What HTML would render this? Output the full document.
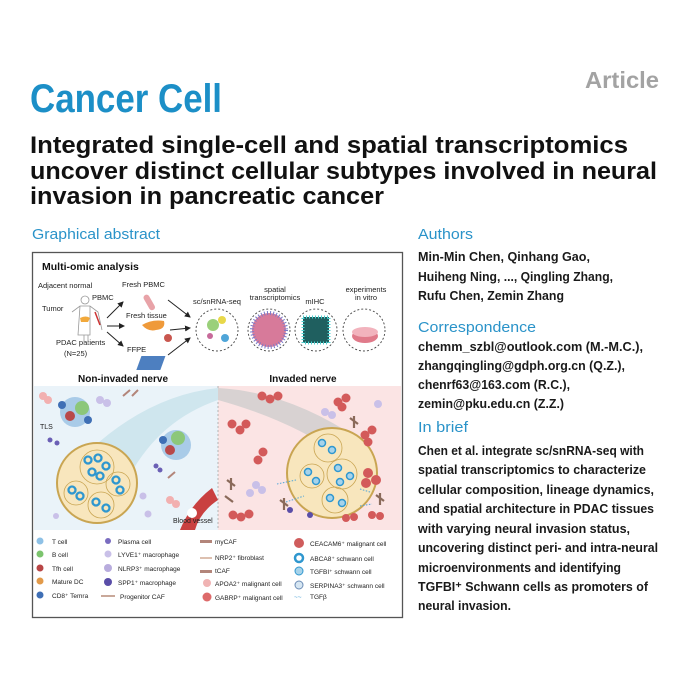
<!DOCTYPE html>
<html><head><meta charset="utf-8"><style>
html,body{margin:0;padding:0;background:#fff}
svg{display:block}
text{font-family:"Liberation Sans",sans-serif}
</style></head><body>
<svg width="688" height="688" viewBox="0 0 688 688" xmlns="http://www.w3.org/2000/svg">
<defs>
<marker id="ar" markerWidth="6" markerHeight="6" refX="5" refY="3" orient="auto"><path d="M0,0 L6,3 L0,6 z" fill="#222"/></marker>
</defs>
<rect width="688" height="688" fill="#fff"/>
<text x="659" y="88" text-anchor="end" font-size="23" font-weight="bold" fill="#a3a3a3" textLength="74" lengthAdjust="spacingAndGlyphs">Article</text>
<text x="30" y="112" font-size="40" font-weight="bold" fill="#1c8fc7" textLength="192" lengthAdjust="spacingAndGlyphs">Cancer Cell</text>
<g font-size="24" font-weight="bold" fill="#111">
<text x="30" y="153" textLength="598" lengthAdjust="spacingAndGlyphs">Integrated single-cell and spatial transcriptomics</text>
<text x="30" y="179" textLength="627" lengthAdjust="spacingAndGlyphs">uncover distinct cellular subtypes involved in neural</text>
<text x="30" y="204" textLength="354" lengthAdjust="spacingAndGlyphs">invasion in pancreatic cancer</text>
</g>
<g font-size="15" fill="#2a93c9">
<text x="32" y="239" textLength="128" lengthAdjust="spacingAndGlyphs">Graphical abstract</text>
<text x="418" y="239" textLength="55" lengthAdjust="spacingAndGlyphs">Authors</text>
<text x="418" y="332" textLength="118" lengthAdjust="spacingAndGlyphs">Correspondence</text>
<text x="418" y="432" textLength="50" lengthAdjust="spacingAndGlyphs">In brief</text>
</g>
<g font-size="12.5" fill="#1a1a1a" font-weight="bold">
<text x="418" y="261" textLength="172" lengthAdjust="spacingAndGlyphs">Min-Min Chen, Qinhang Gao,</text>
<text x="418" y="281" textLength="195" lengthAdjust="spacingAndGlyphs">Huiheng Ning, ..., Qingling Zhang,</text>
<text x="418" y="300" textLength="146" lengthAdjust="spacingAndGlyphs">Rufu Chen, Zemin Zhang</text>
<text x="418" y="351" textLength="225" lengthAdjust="spacingAndGlyphs">chemm_szbl@outlook.com (M.-M.C.),</text>
<text x="418" y="370" textLength="207" lengthAdjust="spacingAndGlyphs">zhangqingling@gdph.org.cn (Q.Z.),</text>
<text x="418" y="389" textLength="152" lengthAdjust="spacingAndGlyphs">chenrf63@163.com (R.C.),</text>
<text x="418" y="408" textLength="146" lengthAdjust="spacingAndGlyphs">zemin@pku.edu.cn (Z.Z.)</text>
<text x="418" y="455" textLength="226" lengthAdjust="spacingAndGlyphs">Chen et al. integrate sc/snRNA-seq with</text>
<text x="418" y="474" textLength="228" lengthAdjust="spacingAndGlyphs">spatial transcriptomics to characterize</text>
<text x="418" y="494" textLength="236" lengthAdjust="spacingAndGlyphs">cellular composition, lineage dynamics,</text>
<text x="418" y="513" textLength="236" lengthAdjust="spacingAndGlyphs">and spatial architecture in PDAC tissues</text>
<text x="418" y="533" textLength="212" lengthAdjust="spacingAndGlyphs">with varying neural invasion status,</text>
<text x="418" y="552" textLength="240" lengthAdjust="spacingAndGlyphs">uncovering distinct peri- and intra-neural</text>
<text x="418" y="572" textLength="203" lengthAdjust="spacingAndGlyphs">microenvironments and identifying</text>
<text x="418" y="591" textLength="230" lengthAdjust="spacingAndGlyphs">TGFBI⁺ Schwann cells as promoters of</text>
<text x="418" y="610" textLength="93" lengthAdjust="spacingAndGlyphs">neural invasion.</text>
</g>

<rect x="32.5" y="252.5" width="370" height="365" fill="#fff" stroke="#555" stroke-width="1.3"/>
<text x="42" y="270" font-size="10.5" font-weight="bold" fill="#111">Multi-omic analysis</text>
<g font-size="7.5" fill="#222">
<text x="38" y="288">Adjacent normal</text>
<text x="92" y="300">PBMC</text>
<text x="42" y="311">Tumor</text>
<text x="56" y="345">PDAC patients</text>
<text x="64" y="356">(N=25)</text>
<text x="122" y="287">Fresh PBMC</text>
<text x="126" y="318">Fresh tissue</text>
<text x="127" y="352">FFPE</text>
<text x="193" y="304">sc/snRNA-seq</text>
<text x="275" y="292" text-anchor="middle">spatial</text>
<text x="275" y="300" text-anchor="middle">transcriptomics</text>
<text x="315" y="304" text-anchor="middle">mIHC</text>
<text x="366" y="292" text-anchor="middle">experiments</text>
<text x="366" y="300" text-anchor="middle">in vitro</text>
</g>
<g fill="none" stroke="#999" stroke-width="0.8">
<circle cx="85" cy="300" r="4"/>
<path d="M72,312 L80,306 L90,306 L98,312 L102,330 M80,306 L78,335 L90,335 L90,306 M84,335 L84,345 M88,335 L88,345"/>
</g>
<path d="M80,318 q6,-3 10,0 l-2,4 l-7,0z" fill="#f2a93b"/>
<line x1="95" y1="312" x2="100" y2="325" stroke="#c33" stroke-width="1.5"/>
<g stroke="#222" stroke-width="1" marker-end="url(#ar)">
<line x1="107" y1="318" x2="123" y2="302"/>
<line x1="107" y1="326" x2="124" y2="326"/>
<line x1="107" y1="332" x2="123" y2="346"/>
<line x1="168" y1="300" x2="190" y2="317"/>
<line x1="170" y1="330" x2="190" y2="328"/>
<line x1="168" y1="355" x2="190" y2="338"/>
</g>
<rect x="146" y="294" width="6" height="17" rx="3" fill="#e8a3a8" transform="rotate(-30 149 302)"/>
<path d="M142,325 q10,-6 22,-4 q2,8 -8,9 q-8,2 -14,-5z" fill="#ef9a3a"/>
<circle cx="168" cy="338" r="4" fill="#c9574f"/>
<rect x="143" y="356" width="24" height="14" fill="#4d7fc0" transform="skewX(-20) translate(128 0)"/>
<g fill="none" stroke="#444" stroke-dasharray="2 2" stroke-width="0.9">
<circle cx="217" cy="330" r="21"/><circle cx="269" cy="330" r="21"/><circle cx="316" cy="330" r="21"/><circle cx="364" cy="330" r="21"/>
</g>
<circle cx="213" cy="325" r="6" fill="#9ad07a"/><circle cx="222" cy="320" r="4" fill="#e8d84a"/><circle cx="210" cy="336" r="3" fill="#c76a9a"/><circle cx="225" cy="338" r="4" fill="#4fa5d8"/>
<circle cx="269" cy="330" r="17" fill="#d77a9a"/><circle cx="269" cy="330" r="17" fill="none" stroke="#7a7ac8" stroke-width="4" stroke-dasharray="1 2"/>
<rect x="303" y="317" width="26" height="26" fill="#1f5f5f"/><rect x="303" y="317" width="26" height="26" fill="none" stroke="#4fd0d0" stroke-width="3" stroke-dasharray="1 2"/>
<ellipse cx="365" cy="336" rx="13" ry="7" fill="#e07a8a"/><ellipse cx="365" cy="332" rx="13" ry="5" fill="#f2b3bd"/>
<text x="123" y="382" font-size="10" font-weight="bold" text-anchor="middle" fill="#111">Non-invaded nerve</text>
<text x="303" y="382" font-size="10" font-weight="bold" text-anchor="middle" fill="#111">Invaded nerve</text>

<rect x="34" y="386" width="184" height="144" fill="#eaf3f9"/>
<rect x="218" y="386" width="183" height="144" fill="#fbe4e4"/>
<line x1="218" y1="386" x2="218" y2="530" stroke="#999" stroke-dasharray="2 2" stroke-width="0.7"/>
<path d="M90,450 Q150,395 218,388 L218,400 Q160,420 130,475z" fill="#cfe6ee"/>
<path d="M218,388 Q290,392 360,440 L340,455 Q290,420 218,400z" fill="#d8d2d2"/>
<!-- TLS clusters -->
<circle cx="75" cy="412" r="15" fill="#a9cbe8"/><circle cx="82" cy="408" r="7" fill="#8cc77a"/><circle cx="70" cy="416" r="5" fill="#b8484a"/><circle cx="62" cy="405" r="4" fill="#3f6fb5"/><circle cx="88" cy="420" r="4" fill="#3f6fb5"/>
<circle cx="176" cy="445" r="15" fill="#a9cbe8"/><circle cx="178" cy="438" r="7" fill="#8cc77a"/><circle cx="170" cy="450" r="5" fill="#b8484a"/><circle cx="163" cy="440" r="4" fill="#3f6fb5"/>
<text x="40" y="429" font-size="7" fill="#222">TLS</text>
<!-- left scattered cells -->
<g fill="#f2b0b0"><circle cx="43" cy="396" r="4"/><circle cx="48" cy="400" r="4"/><circle cx="170" cy="500" r="4"/><circle cx="176" cy="504" r="4"/></g>
<g fill="#c9c0e8"><circle cx="100" cy="400" r="4"/><circle cx="107" cy="403" r="4"/><circle cx="143" cy="496" r="3.5"/><circle cx="148" cy="514" r="3.5"/><circle cx="56" cy="516" r="3"/></g>
<g fill="#6a5fb5"><circle cx="50" cy="440" r="2.5"/><circle cx="57" cy="443" r="2.5"/><circle cx="156" cy="466" r="2.5"/><circle cx="160" cy="470" r="2.5"/></g>
<g stroke="#b3857a" stroke-width="2"><line x1="123" y1="396" x2="130" y2="390"/><line x1="132" y1="396" x2="138" y2="390"/><line x1="168" y1="478" x2="175" y2="472"/></g>
<!-- nerves -->
<circle cx="97" cy="483" r="40" fill="#f8e6bd" stroke="#c9a552" stroke-width="2"/>
<g fill="none" stroke="#c9a552" stroke-width="0.8"><circle cx="97" cy="467" r="17"/><circle cx="76" cy="493" r="12"/><circle cx="101" cy="505" r="13"/><circle cx="118" cy="484" r="12"/></g>
<g fill="none" stroke="#2f97cf" stroke-width="2.3">
<circle cx="88" cy="460" r="3.5"/><circle cx="98" cy="458" r="3.5"/><circle cx="106" cy="466" r="3.5"/><circle cx="92" cy="472" r="3.5"/><circle cx="100" cy="476" r="3.5"/>
<circle cx="72" cy="490" r="3.5"/><circle cx="80" cy="496" r="3.5"/><circle cx="96" cy="502" r="3.5"/><circle cx="106" cy="508" r="3.5"/><circle cx="116" cy="480" r="3.5"/><circle cx="120" cy="490" r="3.5"/>
</g>
<circle cx="332" cy="473" r="45" fill="#f8e6bd" stroke="#c9a552" stroke-width="2"/>
<g fill="none" stroke="#c9a552" stroke-width="0.8"><circle cx="328" cy="448" r="14"/><circle cx="312" cy="476" r="12"/><circle cx="342" cy="474" r="15"/><circle cx="335" cy="500" r="13"/></g>
<g fill="#a7d3ea" stroke="#2f97cf" stroke-width="1.5">
<circle cx="322" cy="443" r="3.5"/><circle cx="332" cy="450" r="3.5"/><circle cx="308" cy="472" r="3.5"/><circle cx="316" cy="481" r="3.5"/><circle cx="338" cy="468" r="3.5"/><circle cx="350" cy="476" r="3.5"/><circle cx="340" cy="482" r="3.5"/><circle cx="330" cy="498" r="3.5"/><circle cx="342" cy="503" r="3.5"/>
</g>
<!-- right scattered cells -->
<g fill="#d35a5a">
<circle cx="262" cy="396" r="4.5"/><circle cx="270" cy="399" r="4.5"/><circle cx="278" cy="396" r="4.5"/>
<circle cx="338" cy="402" r="4.5"/><circle cx="346" cy="398" r="4.5"/><circle cx="342" cy="407" r="4.5"/>
<circle cx="232" cy="424" r="4.5"/><circle cx="240" cy="430" r="4.5"/><circle cx="246" cy="424" r="4.5"/>
<circle cx="365" cy="435" r="4.5"/><circle cx="372" cy="430" r="4.5"/><circle cx="368" cy="442" r="4.5"/>
<circle cx="263" cy="452" r="4.5"/><circle cx="258" cy="460" r="4.5"/>
<circle cx="368" cy="473" r="5"/><circle cx="376" cy="480" r="5"/><circle cx="366" cy="483" r="5"/>
<circle cx="233" cy="515" r="4.5"/><circle cx="241" cy="517" r="4.5"/><circle cx="249" cy="514" r="4.5"/>
<circle cx="346" cy="518" r="4"/><circle cx="354" cy="517" r="4"/><circle cx="372" cy="515" r="4"/><circle cx="380" cy="516" r="4"/>
</g>
<g fill="#c9c0e8"><circle cx="325" cy="412" r="4"/><circle cx="332" cy="415" r="4"/><circle cx="378" cy="404" r="4"/><circle cx="256" cy="485" r="4"/><circle cx="262" cy="490" r="4"/><circle cx="250" cy="493" r="4"/></g>
<g fill="#5a4ea8"><circle cx="290" cy="510" r="3"/><circle cx="310" cy="515" r="3"/></g>
<g stroke="#8a6a5a" stroke-width="2.2" fill="none"><path d="M350,418 l8,6 m-4,-8 l0,12"/><path d="M227,480 l8,6 m-4,-8 l0,12 m-6,6 l8,6"/><path d="M280,500 l8,6 m-4,-8 l0,12"/><path d="M376,495 l8,6 m-4,-8 l0,12"/></g>
<g stroke="#4fa5d8" stroke-width="1" stroke-dasharray="1.5 1.5"><line x1="277" y1="484" x2="296" y2="480"/><line x1="286" y1="502" x2="304" y2="496"/><line x1="360" y1="506" x2="372" y2="504"/><line x1="360" y1="489" x2="370" y2="492"/></g>
<path d="M180,530 Q190,505 212,488 L218,500 Q200,512 195,530z" fill="#c94040"/>
<circle cx="192" cy="513" r="5" fill="#fff"/>
<text x="173" y="523" font-size="7" fill="#222">Blood vessel</text>
<!-- legend -->
<g font-size="6.5" fill="#222">
<circle cx="40" cy="541" r="3.5" fill="#8ec1e6"/><text x="52" y="544">T cell</text>
<circle cx="40" cy="554" r="3.5" fill="#7cc46e"/><text x="52" y="557">B cell</text>
<circle cx="40" cy="568" r="3.5" fill="#b84545"/><text x="52" y="571">Tfh cell</text>
<circle cx="40" cy="581" r="3.5" fill="#e29a4a"/><text x="52" y="584">Mature DC</text>
<circle cx="40" cy="595" r="3.5" fill="#3f6fb5"/><text x="52" y="598">CD8⁺ Temra</text>
<circle cx="108" cy="541" r="3" fill="#7a6cc0"/><text x="118" y="544">Plasma cell</text>
<circle cx="108" cy="554" r="3.5" fill="#c9c0e8"/><text x="118" y="557">LYVE1⁺ macrophage</text>
<circle cx="108" cy="568" r="4" fill="#b8acdd"/><text x="118" y="571">NLRP3⁺ macrophage</text>
<circle cx="108" cy="582" r="4" fill="#5a4ea8"/><text x="118" y="585">SPP1⁺ macrophage</text>
<rect x="101" y="595" width="14" height="2" fill="#c9a89a"/><text x="120" y="599">Progenitor CAF</text>
<rect x="200" y="540" width="12" height="3" fill="#b3857a"/><text x="215" y="544">myCAF</text>
<rect x="200" y="557" width="12" height="2" fill="#ddc0b0"/><text x="215" y="560">NRP2⁺ fibroblast</text>
<rect x="200" y="570" width="12" height="3" fill="#b3857a"/><text x="215" y="573">tCAF</text>
<circle cx="207" cy="583" r="4" fill="#f0b3b3"/><text x="215" y="586">APOA2⁺ malignant cell</text>
<circle cx="207" cy="597" r="4.5" fill="#dd6a6a"/><text x="215" y="600">GABRP⁺ malignant cell</text>
<circle cx="299" cy="543" r="5" fill="#cf5c5c"/><text x="310" y="546">CEACAM6⁺ malignant cell</text>
<circle cx="299" cy="558" r="4" fill="none" stroke="#2f97cf" stroke-width="2.5"/><text x="310" y="561">ABCA8⁺ schwann cell</text>
<circle cx="299" cy="571" r="4" fill="#a7d3ea" stroke="#2f97cf" stroke-width="1"/><text x="310" y="574">TGFBI⁺ schwann cell</text>
<circle cx="299" cy="585" r="4" fill="#d6e6f2" stroke="#6b8bb5" stroke-width="1"/><text x="310" y="588">SERPINA3⁺ schwann cell</text>
<text x="294" y="599" fill="#4fa5d8">~~</text><text x="310" y="599">TGFβ</text>
</g>
</svg>
</body></html>
